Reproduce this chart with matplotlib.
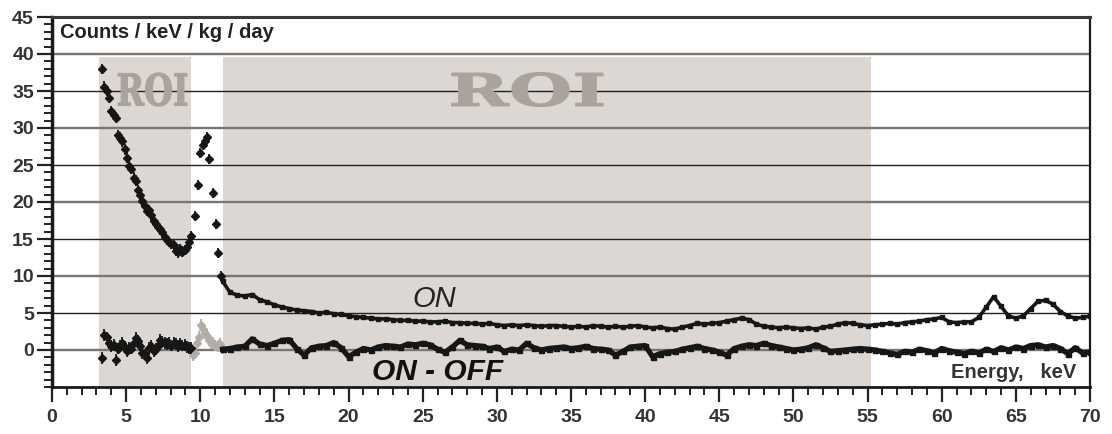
import numpy as np
import matplotlib.pyplot as plt
from matplotlib.ticker import MultipleLocator, FixedLocator
from matplotlib.textpath import TextPath
from matplotlib.patches import PathPatch
from matplotlib.font_manager import FontProperties
from matplotlib.transforms import Affine2D

plt.rcParams['font.family'] = ['Liberation Sans', 'DejaVu Sans']

# ROI energy windows, keV
roi_bands = [(3.2, 9.4), (11.5, 55.2)]
roi_top = 39.6

# ON spectrum, low energy points with error bars
e_lo = [3.35, 3.52, 3.69, 3.84, 4.00, 4.15, 4.30, 4.45, 4.60, 4.75, 4.90,
        5.05, 5.20, 5.35, 5.50, 5.65, 5.80, 5.95, 6.10, 6.25, 6.40, 6.55,
        6.70, 6.85, 7.00, 7.15, 7.30, 7.45, 7.60, 7.75, 7.90, 8.05, 8.20,
        8.35, 8.50, 8.65, 8.80, 8.95, 9.10, 9.25, 9.40]
on_lo = [38.0, 35.6, 35.0, 34.1, 32.3, 31.8, 31.4, 29.0, 28.7, 28.2, 27.1,
         26.0, 24.9, 24.5, 23.3, 22.9, 21.6, 21.0, 20.1, 19.5, 18.8, 18.9,
         18.2, 17.5, 17.0, 16.6, 16.3, 15.9, 15.3, 14.9, 14.6, 14.3, 14.2,
         13.4, 13.2, 13.6, 13.3, 13.5, 13.9, 14.6, 15.4]
diff_lo = [-1.1, 2.0, 1.7, 0.9, 0.5, 0.7, -1.3, 0.2, 0.6, 0.9, 0.4,
           -0.2, 0.3, 0.2, 1.0, 1.6, 1.2, 0.6, -0.4, -0.6, -1.1, 0.3,
           0.5, -0.2, 0.1, 0.5, 1.3, 1.1, 0.9, 0.8, 1.0, 0.6, 0.9,
           0.8, 0.5, 0.8, 0.6, 0.7, 0.4, 0.3, 0.3]

# ON spectrum around the 10 keV line (outside ROI)
e_peak = [9.64, 9.87, 10.00, 10.16, 10.30, 10.43, 10.61, 10.83, 11.05, 11.22, 11.40]
on_peak = [18.1, 22.3, 26.6, 27.7, 28.2, 28.8, 25.8, 21.2, 17.0, 13.1, 10.0]

# ON - OFF around the 10 keV line (grey)
e_gap = [9.49, 9.62, 9.75, 9.90, 10.05, 10.18, 10.32, 10.45, 10.59, 10.73,
         10.88, 11.02, 11.17, 11.30, 11.44]
diff_gap = [-0.7, -0.4, 0.9, 1.8, 3.4, 2.9, 2.3, 1.9, 1.4, 1.0,
            0.9, 0.6, 0.5, 0.8, 0.2]

# 11.5 - 70 keV, 0.5 keV bins
e_hi = np.linspace(11.5, 70.0, 118)
on_hi = [9.3, 7.8, 7.4, 7.3, 7.5, 6.8, 6.5, 6.1, 5.8, 5.6,
         5.4, 5.3, 5.2, 5.0, 5.1, 4.9, 4.8, 4.6, 4.5, 4.4,
         4.3, 4.2, 4.2, 4.1, 4.0, 4.0, 3.9, 3.9, 3.8, 3.8,
         3.9, 3.7, 3.7, 3.6, 3.6, 3.5, 3.6, 3.4, 3.3, 3.4,
         3.3, 3.4, 3.3, 3.2, 3.3, 3.3, 3.2, 3.1, 3.2, 3.1,
         3.3, 3.2, 3.1, 3.2, 3.1, 3.2, 3.3, 3.1, 3.0, 3.1,
         2.9, 2.8, 3.1, 3.3, 3.6, 3.5, 3.6, 3.7, 3.9, 4.1,
         4.3, 4.1, 3.5, 3.2, 3.1, 3.0, 3.1, 3.0, 2.9, 3.0,
         2.8, 3.1, 3.2, 3.5, 3.7, 3.6, 3.4, 3.3, 3.4, 3.5,
         3.6, 3.5, 3.7, 3.8, 3.9, 4.1, 4.2, 4.4, 3.8, 3.7,
         3.8, 3.8, 4.4, 5.8, 7.2, 5.9, 4.6, 4.3, 4.6, 5.6,
         6.6, 6.7, 6.2, 5.2, 4.6, 4.3, 4.4, 4.6]
diff_hi = [0.1, 0.2, 0.4, 0.5, 1.5, 0.8, 0.6, 0.9, 1.3, 1.4,
           0.2, -0.7, 0.3, 0.5, 0.6, 1.0, 0.3, -0.9, -0.3, 0.2,
           0.0, 0.4, 0.6, 0.5, 0.4, 0.8, 0.7, 0.9, 0.7, 0.1,
           -0.3, 0.4, 1.3, 0.7, 0.6, 0.5, 0.2, 0.4, -0.2, 0.1,
           0.0, 0.9, 0.3, 0.0, 0.2, 0.3, 0.4, 0.2, 0.3, 0.5,
           0.2, 0.1, 0.0, -0.7, -0.2, 0.4, 0.5, 0.6, -0.9, -0.5,
           -0.3, -0.2, 0.1, 0.3, 0.5, 0.2, 0.0, -0.3, -0.7, 0.2,
           0.5, 0.7, 0.6, 0.9, 0.6, 0.4, 0.2, 0.0, 0.1, 0.3,
           0.7, 0.3, -0.2, -0.1, 0.0, 0.1, 0.2, 0.1, 0.0, -0.2,
           -0.4, -0.6, -0.2, -0.3, 0.1, -0.1, -0.4, 0.2, -0.1, -0.3,
           -0.5, -0.2, -0.4, 0.1, -0.2, 0.3, 0.0, 0.4, 0.2, 0.6,
           0.7, 0.4, 0.6, 0.2, -0.5, 0.3, -0.4, -0.3]

err_on = 0.7
err_diff = 0.8

roi_fill = '#dcd7d2'
roi_text = '#aaa39c'
ink = '#161616'
grey_pts = '#b3ada7'

fig = plt.figure(figsize=(11.12, 4.34), dpi=100)
ax = fig.add_axes([52 / 1112, 47 / 434, 1038 / 1112, 370 / 434])
ax.set_xlim(0, 70)
ax.set_ylim(-5, 45)

# shaded regions of interest
for lo, hi in roi_bands:
    ax.axvspan(lo, hi, ymin=0, ymax=(roi_top + 5) / 50, color=roi_fill, lw=0, zorder=0)

# horizontal guide lines, alternating dark/grey
for k, level in enumerate(range(0, 45, 5)):
    if k % 2 == 0:
        ax.axhline(level, color='#7a7672', lw=1.7, zorder=1)
    else:
        ax.axhline(level, color='#222222', lw=1.0, zorder=1)


def roi_label(xc, yc, w, h):
    fp = FontProperties(family='DejaVu Serif', weight='bold')
    tp = TextPath((0, 0), 'ROI', size=1, prop=fp)
    ext = tp.get_extents()
    tr = (Affine2D().translate(-ext.x0 - ext.width / 2, -ext.y0 - ext.height / 2)
          .scale(w / ext.width, h / ext.height).translate(xc, yc))
    ax.add_patch(PathPatch(tr.transform_path(tp), facecolor=roi_text,
                           edgecolor=roi_text, lw=0.8, zorder=2))


roi_label(6.78, 35.2, 4.65, 4.5)
roi_label(32.06, 35.2, 10.2, 4.6)

# ON - OFF
ax.errorbar(e_gap, diff_gap, yerr=err_diff, fmt='D', ms=4.5, color=grey_pts,
            elinewidth=1.3, capsize=0, zorder=3)
ax.errorbar(e_lo, diff_lo, yerr=err_diff, fmt='D', ms=4.5, color=ink,
            elinewidth=1.3, capsize=0, zorder=4)
ax.plot(e_hi, diff_hi, '-', marker='s', ms=3.6, lw=3.8, color=ink, zorder=4)

# ON
ax.errorbar(e_lo, on_lo, yerr=err_on, fmt='D', ms=3.8, color=ink,
            elinewidth=1.3, capsize=0, zorder=4)
ax.errorbar(e_peak, on_peak, yerr=err_on, fmt='D', ms=3.8, color=ink,
            elinewidth=1.3, capsize=0, zorder=4)
ax.plot(e_hi, on_hi, '-', marker='s', ms=2.6, lw=2.6, color=ink, zorder=4)

# labels
ax.text(0.55, 42.1, 'Counts / keV / kg / day', fontsize=14.5, fontweight='bold',
        color='#222222', ha='left', va='baseline', zorder=5)
ax.text(25.76, 5.85, 'ON', fontsize=21, fontstyle='italic', color='#222222',
        ha='center', va='baseline', zorder=5)
ax.text(26.0, -4.05, 'ON - OFF', fontsize=21.5, fontstyle='italic', fontweight='bold',
        color='#111111', ha='center', va='baseline', zorder=5)
ax.text(69.1, -3.74, 'Energy,   keV', fontsize=14.5, fontweight='bold',
        color='#333333', ha='right', va='baseline', zorder=5)

# axes and ticks
ax.xaxis.set_major_locator(MultipleLocator(5))
ax.xaxis.set_minor_locator(MultipleLocator(1))
ax.yaxis.set_major_locator(FixedLocator(np.arange(0, 46, 5)))
ax.yaxis.set_minor_locator(MultipleLocator(1))
ax.tick_params(axis='both', which='major', direction='out', length=11, width=1.6,
               labelsize=14, labelcolor='#333333', color='#222222')
ax.tick_params(axis='both', which='minor', direction='out', length=5.5, width=1.4,
               color='#222222')
ax.tick_params(axis='x', which='major', pad=5)
ax.tick_params(axis='y', which='major', pad=2)
for lab in ax.get_xticklabels() + ax.get_yticklabels():
    lab.set_fontweight('bold')

ax.spines['left'].set_linewidth(2.5)
ax.spines['bottom'].set_linewidth(2.0)
ax.spines['right'].set_linewidth(1.6)
ax.spines['top'].set_linewidth(2.2)
ax.spines['top'].set_color('#3a3a3a')
for s in ('left', 'bottom', 'right'):
    ax.spines[s].set_color('#1a1a1a')

fig.savefig('out.png', dpi=100)
